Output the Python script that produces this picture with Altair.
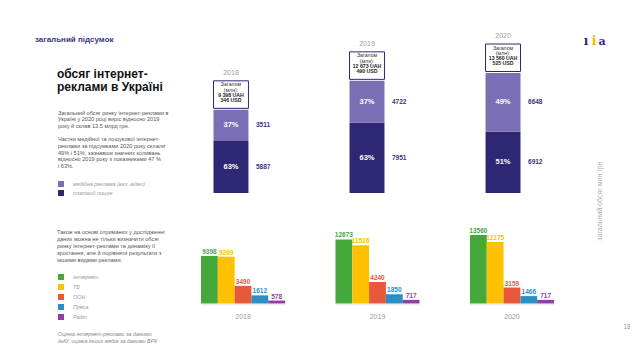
import altair as alt
import pandas as pd

# ---------------- data ----------------
years = ["2018", "2019", "2020"]
display_vals = [3511, 4722, 6648]      # медійна реклама (вкл. відео)
search_vals = [5887, 7951, 6912]       # платний пошук
display_pct = ["37%", "37%", "49%"]
search_pct = ["63%", "63%", "51%"]
totals_uah = ["9 398", "12 673", "13 560"]
totals_usd = ["346", "490", "525"]

media = ["Інтернет", "ТБ", "OOH", "Преса", "Радіо"]
media_2018 = [9398, 9269, 3490, 1612, 578]
media_2019 = [12673, 11526, 4240, 1850, 717]
media_2020 = [13560, 12175, 3159, 1466, 717]

type_names = ["медійна реклама (вкл. відео)", "платний пошук"]

# ---------------- styles ----------------
FONT = "Liberation Sans"
NAVY = "#2d2774"
LIGHT = "#7a6fb4"
TITLE_C = "#3a3784"
GRAY_TXT = "#555555"
MEDIA_COLORS = ["#45a83b", "#fdc100", "#e8593c", "#2b8fc6", "#8f3fa5"]

# ---------------- tables ----------------
top_rows = []
for i, y in enumerate(years):
    top_rows.append({"year": y, "type": type_names[1], "value": search_vals[i], "pct": search_pct[i], "ord": 1})
    top_rows.append({"year": y, "type": type_names[0], "value": display_vals[i], "pct": display_pct[i], "ord": 2})
top_df = pd.DataFrame(top_rows)

tot_df = pd.DataFrame({
    "year": years,
    "total": [d + s for d, s in zip(display_vals, search_vals)],
    "uah": totals_uah,
    "usd": totals_usd,
})

bot_rows = []
for y, vals in zip(years, [media_2018, media_2019, media_2020]):
    for m, v in zip(media, vals):
        bot_rows.append({"year": y, "media": m, "value": v})
bot_df = pd.DataFrame(bot_rows)
year_df = pd.DataFrame({"year": years})

# ---------------- top stacked bars ----------------
x_top = alt.X("year:N", axis=None,
              scale=alt.Scale(domain=years, range=[205.5, 512.5], paddingInner=0.743, paddingOuter=0))
ytop_scale = alt.Scale(domain=[0, 13560], range=[185, 65], nice=False, zero=True)

stacked = alt.Chart(top_df).transform_stack(
    stack="value", groupby=["year"], sort=[alt.SortField("ord", order="ascending")], as_=["v0", "v1"]
).transform_calculate(mid="(datum.v0 + datum.v1) / 2")

bars_top = stacked.mark_bar().encode(
    x=x_top,
    y=alt.Y("v1:Q", scale=ytop_scale, axis=None),
    y2="v0:Q",
    color=alt.Color("type:N", scale=alt.Scale(domain=type_names, range=[LIGHT, NAVY]), legend=None),
)
pct_top = stacked.mark_text(font=FONT, fontSize=7.5, fontWeight="bold", color="white", baseline="middle").encode(
    x=x_top, y=alt.Y("mid:Q", scale=ytop_scale, axis=None), text="pct:N")
val_top = stacked.mark_text(font=FONT, fontSize=6.5, fontWeight="bold", color="#3b3480",
                            align="left", baseline="middle", dx=25).encode(
    x=x_top, y=alt.Y("mid:Q", scale=ytop_scale, axis=None), text=alt.Text("value:Q", format="d"))

tot_base = alt.Chart(tot_df).transform_calculate(
    uah_l="datum.uah + ' UAH'", usd_l="datum.usd + ' USD'")
box = tot_base.mark_rect(fill="white", stroke=NAVY, strokeWidth=1, yOffset=-1.5, y2Offset=-29).encode(
    x=x_top, y=alt.Y("total:Q", scale=ytop_scale, axis=None), y2="total:Q")


def box_text(field_or_text, dy, bold=False, const=None):
    mk = dict(font=FONT, fontSize=5.2, color="#333333" if not bold else "#222222",
              fontWeight="bold" if bold else "normal", baseline="middle", dy=dy)
    if const is not None:
        mk["text"] = const
        return tot_base.mark_text(**mk).encode(x=x_top, y=alt.Y("total:Q", scale=ytop_scale, axis=None))
    return tot_base.mark_text(**mk).encode(x=x_top, y=alt.Y("total:Q", scale=ytop_scale, axis=None),
                                           text=f"{field_or_text}:N")


box_t1 = box_text(None, -25.5, const="Загалом")
box_t2 = box_text(None, -20.3, const="(млн):")
box_t3 = box_text("uah_l", -15, bold=True)
box_t4 = box_text("usd_l", -9.8, bold=True)
year_top = tot_base.mark_text(font=FONT, fontSize=7, color="#999999", baseline="middle", dy=-37).encode(
    x=x_top, y=alt.Y("total:Q", scale=ytop_scale, axis=None), text="year:N")

top_layer = alt.layer(bars_top, pct_top, val_top, box, box_t1, box_t2, box_t3, box_t4, year_top)

# ---------------- bottom grouped bars ----------------
x_bot = alt.X("year:N", axis=None,
              scale=alt.Scale(domain=years, range=[193, 546], paddingInner=0.375, paddingOuter=0))
xoff = alt.XOffset("media:N", scale=alt.Scale(domain=media, paddingInner=0, paddingOuter=0))
ybot_scale = alt.Scale(domain=[0, 13560], range=[295.5, 227], nice=False, zero=True)
col_bot = alt.Color("media:N", scale=alt.Scale(domain=media, range=MEDIA_COLORS), legend=None)

base_line = alt.Chart(year_df).mark_rect(color="#ececec").encode(
    x=x_bot, y=alt.value(296), y2=alt.value(297.5))
bars_bot = alt.Chart(bot_df).mark_bar().encode(
    x=x_bot, xOffset=xoff, y=alt.Y("value:Q", scale=ybot_scale, axis=None), color=col_bot)
lab_bot = alt.Chart(bot_df).mark_text(font=FONT, fontSize=6.5, fontWeight="bold",
                                      baseline="alphabetic", dy=-2).encode(
    x=x_bot, xOffset=xoff, y=alt.Y("value:Q", scale=ybot_scale, axis=None), color=col_bot,
    text=alt.Text("value:Q", format="d"))
year_bot = alt.Chart(year_df).mark_text(font=FONT, fontSize=7, color="#999999", baseline="middle").encode(
    x=x_bot, y=alt.value(309), text="year:N")

bottom_layer = alt.layer(base_line, bars_bot, lab_bot, year_bot)

# ---------------- decorations / text ----------------
one = pd.DataFrame({"k": [0]})


def label(text, x, y, size=5.6, color=GRAY_TXT, weight="normal", style="normal",
          align="left", baseline="middle", angle=None, lh=None, font=FONT):
    kw = dict(text=text, font=font, fontSize=size, color=color, fontWeight=weight,
              fontStyle=style, align=align, baseline=baseline)
    if angle is not None:
        kw["angle"] = angle
    if lh is not None:
        kw["lineHeight"] = lh
    return alt.Chart(one).mark_text(**kw).encode(x=alt.value(x - 8), y=alt.value(y - 8))


def square(x0, y0, x1, y1, color):
    return alt.Chart(one).mark_rect(color=color).encode(
        x=alt.value(x0 - 8), x2=alt.value(x1 - 8), y=alt.value(y0 - 8), y2=alt.value(y1 - 8))


decor = [
    label("загальний підсумок", 35, 40, size=8, color=TITLE_C, weight="bold"),
    label(["обсяг інтернет-", "реклами в Україні"], 57, 69, size=12, color="#111111",
          weight="bold", baseline="top", lh=13),
    label(["Загальний обсяг ринку інтернет-реклами в",
           "Україні у 2020 році виріс відносно 2019",
           "року й склав 13.5 млрд грн."], 58, 110.5, baseline="top", lh=6.6),
    label(["Частки медійної та пошукової інтернет-",
           "реклами за підсумками 2020 року склали",
           "49% і 51%, зазнавши значних коливань",
           "відносно 2019 року з показниками 47 %",
           "і 63%."], 58, 137.3, baseline="top", lh=6.7),
    square(58, 181, 64, 187, LIGHT),
    square(58, 190, 64, 196, NAVY),
    label("медійна реклама (вкл. відео)", 73, 184, size=5.4, color="#999999", style="italic"),
    label("платний пошук", 73, 193, size=5.4, color="#999999", style="italic"),
    label(["Також на основі отриманих у дослідженні",
           "даних можна не тільки визначити обсяг",
           "ринку інтернет-реклами та динаміку її",
           "зростання, але й порівняти результати з",
           "іншими видами реклами."], 57, 230.2, baseline="top", lh=7),
    label(["Оцінка інтернет-реклами за даними",
           "ІнАУ, оцінка інших медіа за даними ВРК"], 58, 331.5, size=5.4, color="#888888",
          style="italic", baseline="top", lh=7),
    label("загальний обсяг млн грн", 600, 201, size=7, color="#aaaaaa", align="center", angle=270),
    label("18", 627, 327, size=6.5, color="#999999", align="center"),
    label("ı", 586, 41, size=12, color=NAVY, weight="bold", align="center", font="DejaVu Serif"),
    label("i", 594, 41, size=12, color="#f2b705", weight="bold", align="center", font="DejaVu Serif"),
    label("a", 602, 42, size=11, color=NAVY, weight="bold", align="center", font="DejaVu Serif"),
]
for i, (m, c) in enumerate(zip(media, MEDIA_COLORS)):
    cy = 277 + 10 * i
    decor.append(square(58, cy - 3, 64, cy + 3, c))
    decor.append(label(m, 73, cy, size=5.4, color="#999999", style="italic"))

chart = alt.layer(top_layer, bottom_layer, *decor).resolve_scale(
    x="independent", y="independent", color="independent"
).properties(
    width=622, height=343, padding=0,
    autosize=alt.AutoSizeParams(type="none"),
    background="white",
).configure_view(stroke=None)

chart.save("out.html", embed_options={"renderer": "svg", "actions": False})
